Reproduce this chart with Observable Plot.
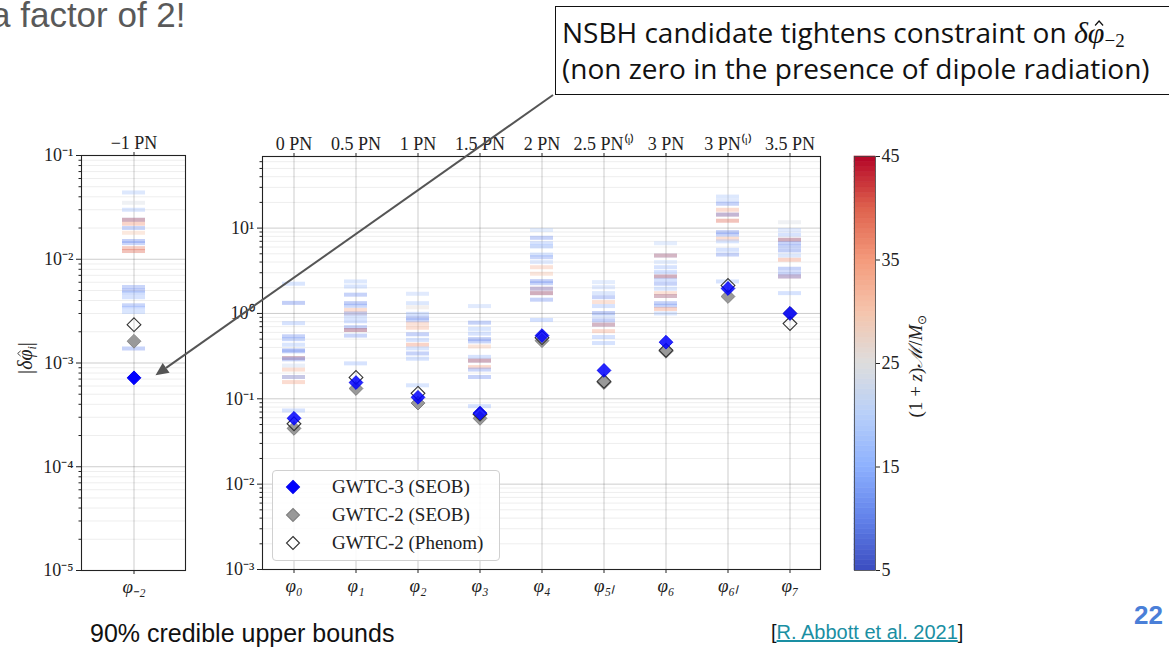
<!DOCTYPE html>
<html><head><meta charset="utf-8">
<script src="https://cdn.jsdelivr.net/npm/d3@7"></script>
<script src="https://cdn.jsdelivr.net/npm/@observablehq/plot@0.6"></script>
<style>
body{margin:0;background:#fff;}
#page{position:relative;width:1169px;height:649px;overflow:hidden;background:#fff;font-family:"Liberation Sans",Arial,sans-serif;}
.abs{position:absolute;}
</style></head><body><div id="page"></div>
<script>
// ---------- data ----------
const pnLabels = ["0 PN","0.5 PN","1 PN","1.5 PN","2 PN","2.5 PN⁽ˡ⁾","3 PN","3 PN⁽ˡ⁾","3.5 PN"];
const params = ["φ₀","φ₁","φ₂","φ₃","φ₄","φ₅ₗ","φ₆","φ₆ₗ","φ₇"];
const dipoleParam = "φ₋₂";
const dipolePN = "−1 PN";
const gwtc3Seob   = [0.059,0.155,0.104,0.068,0.55,0.215,0.46,1.96,1.0];
const gwtc2Seob   = [0.045,0.132,0.089,0.059,0.48,0.155,0.36,1.58,1.0];
const gwtc2Phenom = [0.051,0.178,0.116,0.066,0.52,0.160,0.37,2.13,0.76];
const dipoleGwtc3 = 0.00072;
const dipoleGwtc2Seob = 0.00162;
const dipoleGwtc2Phenom = 0.00234;
// individual events: [90% bound, detector-frame chirp mass]
const boundsDipole = [[0.044,18],[0.035,24],[0.030,17],[0.024,10],[0.024,38],[0.022,36],[0.020,12],[0.018,30],[0.015,10],[0.0143,12],[0.0128,38],[0.012,40],[0.0054,12],[0.005,10],[0.0047,14],[0.0043,16],[0.0036,12],[0.0034,15],[0.0031,17],[0.00138,11]];
const bounds0 = [[2.23,17],[1.33,10],[0.77,16],[0.54,11],[0.50,13],[0.43,17],[0.37,10],[0.36,12],[0.30,9],[0.30,36],[0.29,12],[0.245,22],[0.22,33],[0.18,30],[0.18,12],[0.157,34],[0.073,16]];
const bounds1 = [[2.37,18],[2.07,17],[1.66,11],[1.32,10],[1.23,13],[1.10,33],[1.0,30],[1.0,12],[0.905,17],[0.81,15],[0.69,11],[0.64,10],[0.64,38],[0.55,12],[0.26,16]];
const bounds2 = [[1.70,19],[1.32,18],[1.18,26],[0.99,16],[0.89,10],[0.83,12],[0.76,32],[0.68,33],[0.57,11],[0.49,16],[0.43,36],[0.39,17],[0.34,11],[0.295,16],[0.144,17]];
const bounds3 = [[1.22,19],[0.78,11],[0.66,17],[0.58,16],[0.50,10],[0.47,12],[0.41,31],[0.31,16],[0.28,10],[0.28,38],[0.235,35],[0.22,12],[0.18,11],[0.082,16]];
const bounds4 = [[9.5,20],[7.7,11],[6.65,16],[6.1,14],[4.9,17],[4.56,12],[4.0,19],[3.48,32],[2.92,31],[2.39,10],[2.26,12],[1.95,36],[1.95,12],[1.73,10],[1.73,38],[1.45,11],[0.84,15]];
const bounds5l = [[2.33,20],[2.03,19],[1.73,18],[1.55,11],[1.36,32],[1.22,16],[1.01,10],[0.93,19],[0.83,11],[0.74,10],[0.74,36],[0.62,34],[0.53,16],[0.45,16]];
const bounds6 = [[6.65,20],[4.77,10],[4.77,36],[4.0,20],[3.48,16],[3.05,15],[2.71,10],[2.71,38],[2.48,16],[2.23,11],[1.95,17],[1.73,32],[1.6,12],[1.6,36],[1.32,11],[1.23,12],[1.13,36],[1.0,17]];
const bounds6l = [[23.4,18],[21,19],[19.3,11],[16.4,34],[14.4,38],[14.4,12],[12.2,40],[8.96,10],[8.4,12],[7.5,33],[7.0,17],[5.57,16],[4.9,11],[2.37,16]];
const bounds7 = [[11.7,24],[9.5,19],[8.4,16],[7.3,10],[7.3,38],[6.65,11],[6.1,12],[5.47,10],[4.77,18],[4.26,36],[3.34,11],[2.96,12],[2.71,38],[2.71,12],[1.73,16]];
const decadesLeft = [1e-5,1e-4,1e-3,1e-2,1e-1];
const decadesMain = [1e-3,1e-2,1e-1,1,10];
const massTicks = [5,15,25,35,45];
const coolwarmDomain = [5,10,15,20,25,30,35,40,45];
const coolwarmRange = ["#3b4cc0","#6282ea","#8db0fe","#b7cff9","#dddddd","#f5c4ac","#f49a7b","#de614d","#b40426"];
const legendLabels = ["GWTC-3 (SEOB)","GWTC-2 (SEOB)","GWTC-2 (Phenom)"];

// ---------- helpers ----------
const page = document.getElementById("page");
const supMap = {"-":"⁻","0":"⁰","1":"¹","2":"²","3":"³","4":"⁴","5":"⁵","6":"⁶","7":"⁷","8":"⁸","9":"⁹"};
const pow10 = d => "10" + String(Math.round(Math.log10(d))).split("").map(c => supMap[c]).join("");
const noLabel = () => "";
const minorTicks = (lo, hi) => d3.range(lo, hi).flatMap(e => d3.range(2,10).map(m => m * 10 ** e));
const colorOpts = {type:"linear", domain:coolwarmDomain, range:coolwarmRange, interpolate:"rgb"};
const svgStyle = {fontFamily:"'Liberation Serif',serif", fontSize:"18px", color:"#222", background:"transparent", overflow:"visible", maxWidth:"none"};
function place(el, left, top) {
  const d = document.createElement("div");
  d.className = "abs"; d.style.left = left + "px"; d.style.top = top + "px";
  d.append(el); page.append(d); return d;
}
const MARK_R = 6.2;
const BAR_W = 4, BAR_OP = 0.38;

// ---------- left panel (dipole) ----------
const minorLeft = minorTicks(-5, -1);
const leftPlot = Plot.plot({
  width:200, height:480, marginLeft:81, marginRight:15, marginTop:35, marginBottom:30,
  style: svgStyle,
  x:{type:"band", domain:[dipoleParam], paddingInner:0.78, paddingOuter:0.39},
  y:{type:"log", domain:[1e-5,1e-1]},
  color: colorOpts,
  marks:[
    Plot.gridY(minorLeft, {stroke:"#000", strokeOpacity:0.07}),
    Plot.gridY(decadesLeft, {stroke:"#000", strokeOpacity:0.2}),
    Plot.gridX([dipoleParam], {stroke:"#000", strokeOpacity:0.2}),
    Plot.tickY(boundsDipole, {x:() => dipoleParam, y:d => d[0], stroke:d => d[1], strokeWidth:BAR_W, strokeOpacity:BAR_OP}),
    Plot.dot([dipoleGwtc2Seob], {x:() => dipoleParam, y:d => d, symbol:"diamond2", r:MARK_R, fill:"#999", stroke:"#888", strokeWidth:1}),
    Plot.dot([dipoleGwtc2Phenom], {x:() => dipoleParam, y:d => d, symbol:"diamond2", r:MARK_R, fill:"none", stroke:"#333", strokeWidth:1.1}),
    Plot.dot([dipoleGwtc3], {x:() => dipoleParam, y:d => d, symbol:"diamond2", r:MARK_R, fill:"#0000ff", stroke:"#0000ee", strokeWidth:1}),
    Plot.axisY(decadesLeft, {tickFormat:pow10, tickSize:5, tickPadding:3, label:null, fill:"#222"}),
    Plot.axisY(minorLeft, {tickFormat:noLabel, tickSize:2.5, label:null}),
    Plot.axisX({anchor:"top", tickFormat:() => dipolePN, tickSize:4, tickPadding:3, label:null, fill:"#222"}),
    Plot.axisX({anchor:"bottom", tickSize:4, tickPadding:5, label:null, fill:"#222", fontStyle:"italic", fontSize:19}),
    Plot.frame({stroke:"#222", strokeWidth:1.1})
  ]
});
place(leftPlot, 0, 120);

// ---------- main panel ----------
const mainBounds = [bounds0,bounds1,bounds2,bounds3,bounds4,bounds5l,bounds6,bounds6l,bounds7];
const barRows = params.flatMap((p,i) => mainBounds[i].map(([v,m]) => ({param:p, bound:v, mass:m})));
const mk = arr => params.map((p,i) => ({param:p, value:arr[i]}));
const minorMain = minorTicks(-3, 2).filter(v => v <= 69);
const mainPlot = Plot.plot({
  width:660, height:480, marginLeft:62, marginRight:40, marginTop:36, marginBottom:31,
  style: svgStyle,
  x:{type:"band", domain:params, paddingInner:0.63, paddingOuter:0.315},
  y:{type:"log", domain:[1e-3,69]},
  color: colorOpts,
  marks:[
    Plot.gridY(minorMain, {stroke:"#000", strokeOpacity:0.07}),
    Plot.gridY(decadesMain, {stroke:"#000", strokeOpacity:0.2}),
    Plot.gridX(params, {stroke:"#000", strokeOpacity:0.2}),
    Plot.tickY(barRows, {x:"param", y:"bound", stroke:"mass", strokeWidth:BAR_W, strokeOpacity:BAR_OP}),
    Plot.dot(mk(gwtc2Seob), {x:"param", y:"value", symbol:"diamond2", r:MARK_R, fill:"#999", stroke:"#808080", strokeWidth:1}),
    Plot.dot(mk(gwtc2Phenom), {x:"param", y:"value", symbol:"diamond2", r:MARK_R, fill:"none", stroke:"#333", strokeWidth:1.1}),
    Plot.dot(mk(gwtc3Seob), {x:"param", y:"value", symbol:"diamond2", r:MARK_R, fill:"#0000ff", fillOpacity:0.85, stroke:"#0000ee", strokeOpacity:0.85, strokeWidth:1}),
    Plot.axisY(decadesMain, {tickFormat:pow10, tickSize:5, tickPadding:3, label:null, fill:"#222"}),
    Plot.axisY(minorMain, {tickFormat:noLabel, tickSize:2.5, label:null}),
    Plot.axisX({anchor:"top", tickFormat:d => pnLabels[params.indexOf(d)], tickSize:4, tickPadding:3, label:null, fill:"#222"}),
    Plot.axisX({anchor:"bottom", tickSize:4, tickPadding:5, label:null, fill:"#222", fontStyle:"italic", fontSize:19}),
    Plot.frame({stroke:"#222", strokeWidth:1.1})
  ]
});
place(mainPlot, 200, 120);

// ---------- colorbar ----------
const massSteps = d3.range(5, 45, 0.5);
const cbar = Plot.plot({
  width:160, height:480, marginLeft:54, marginRight:85, marginTop:36, marginBottom:30,
  style: svgStyle,
  y:{domain:[5,45]},
  color: colorOpts,
  marks:[
    Plot.rect(massSteps, {y1:d => d, y2:d => d + 0.5, fill:d => d + 0.25, stroke:d => d + 0.25, strokeWidth:0.6}),
    Plot.axisY(massTicks, {anchor:"right", tickSize:4, tickPadding:2, label:null, fill:"#222"}),
    Plot.frame({stroke:"#444", strokeWidth:0.8})
  ]
});
place(cbar, 800, 120);

// ---------- text / labels ----------
function html(str, css) {
  const d = document.createElement("div");
  d.innerHTML = str; d.style.cssText = "position:absolute;" + css; page.append(d); return d;
}
// italic phi with a small drawn hat (not a separate glyph)
const hatPhi = () => `<span style="position:relative;display:inline-block;font-family:'Liberation Serif',serif;font-style:italic;">φ<svg viewBox="0 0 10 6" style="position:absolute;left:0.2em;top:0.08em;width:0.34em;height:0.2em;overflow:visible"><path d="M1 5.5 L5 1 L9 5.5" fill="none" stroke="currentColor" stroke-width="1.2"/></svg></span>`;
html(`|<i style="font-family:'Liberation Serif',serif">δ</i>${hatPhi()}<span style="font-size:12px;font-style:italic;position:relative;top:4px">i</span>|`, "left:25px;top:358px;transform:translate(-50%,-50%) rotate(-90deg);white-space:nowrap;font-family:'Liberation Serif',serif;font-size:20px;color:#222;line-height:1;");
html('(1 + <i>z</i>)<i>ℳ</i>/<i>M</i><span style="font-size:12px;position:relative;top:4px">⊙</span>', "left:915px;top:366px;transform:translate(-50%,-50%) rotate(-90deg);white-space:nowrap;font-family:'Liberation Serif',serif;font-size:19px;color:#222;line-height:1;");

// legend
html("", "left:272px;top:470px;width:226px;height:89px;border:1px solid #d0d0d0;border-radius:4px;background:rgba(255,255,255,0.85);");
const legendStyles = [
  {fill:"#0000ff", stroke:"#0000ee"},
  {fill:"#999", stroke:"#808080"},
  {fill:"none", stroke:"#333"}
];
legendLabels.forEach((lab, i) => {
  const y = 487 + i * 28;
  const s = legendStyles[i];
  html(`<svg width="16" height="16" style="overflow:visible"><path d="M8 1.5 L14.5 8 L8 14.5 L1.5 8 Z" fill="${s.fill}" stroke="${s.stroke}" stroke-width="1.1"/></svg>`, `left:${293-8}px;top:${y-8}px;width:16px;height:16px;line-height:0;`);
  html(lab, `left:332px;top:${y}px;transform:translateY(-50%);font-family:'Liberation Serif',serif;font-size:19px;color:#222;white-space:nowrap;`);
});

// slide text
html("a factor of 2!", "left:-9px;top:-5px;font-family:'Liberation Sans',Arial,sans-serif;font-size:35px;color:#595959;white-space:nowrap;");
html(`<div style="height:36px">NSBH candidate tightens constraint on <span style="font-size:30px;line-height:1"><i style="font-family:'Liberation Serif',serif">δ</i>${hatPhi()}<span style="font-family:'Liberation Serif',serif;font-size:19px;position:relative;top:4px">−2</span></span></div><div>(non zero in the presence of dipole radiation)</div>`,
  "left:555px;top:6px;width:640px;height:89px;border:1.5px solid #111;padding:7px 0 0 6px;box-sizing:border-box;font-family:'Open Sans',sans-serif;font-size:28px;line-height:36px;color:#111;white-space:nowrap;");
html("90% credible upper bounds", "left:90px;top:619px;font-family:'Liberation Sans',Arial,sans-serif;font-size:25px;color:#111;white-space:nowrap;");
html('[<span style="color:#1a8fa3;text-decoration:underline">R. Abbott et al. 2021</span>]', "left:771px;top:621px;font-family:'Liberation Sans',Arial,sans-serif;font-size:20px;color:#111;white-space:nowrap;");
html("22", "left:1134px;top:600px;font-family:'Liberation Sans',Arial,sans-serif;font-size:26px;font-weight:bold;color:#4a7fd8;");

// arrow, tip placed next to the dipole GWTC-3 point via the left panel's scales
const ys = leftPlot.scale("y"), xs = leftPlot.scale("x");
const tipX = xs.apply(dipoleParam) + xs.bandwidth / 2 + 22;
const tipY = 120 + ys.apply(dipoleGwtc3) - 2;
const ov = document.createElementNS("http://www.w3.org/2000/svg","svg");
ov.setAttribute("width","1169"); ov.setAttribute("height","649");
ov.style.cssText = "position:absolute;left:0;top:0;pointer-events:none;overflow:visible";
const tail = [553, 95];
const ang = Math.atan2(tipY - tail[1], tipX - tail[0]);
const L = 13, W = 6;
const bx = tipX - L*Math.cos(ang), by = tipY - L*Math.sin(ang);
ov.innerHTML = `<line x1="${tail[0]}" y1="${tail[1]}" x2="${bx}" y2="${by}" stroke="#555" stroke-width="2"/>
<path d="M${tipX},${tipY} L${bx + W*Math.sin(ang)},${by - W*Math.cos(ang)} L${bx - W*Math.sin(ang)},${by + W*Math.cos(ang)} Z" fill="#555"/>`;
page.append(ov);
</script></body></html>
